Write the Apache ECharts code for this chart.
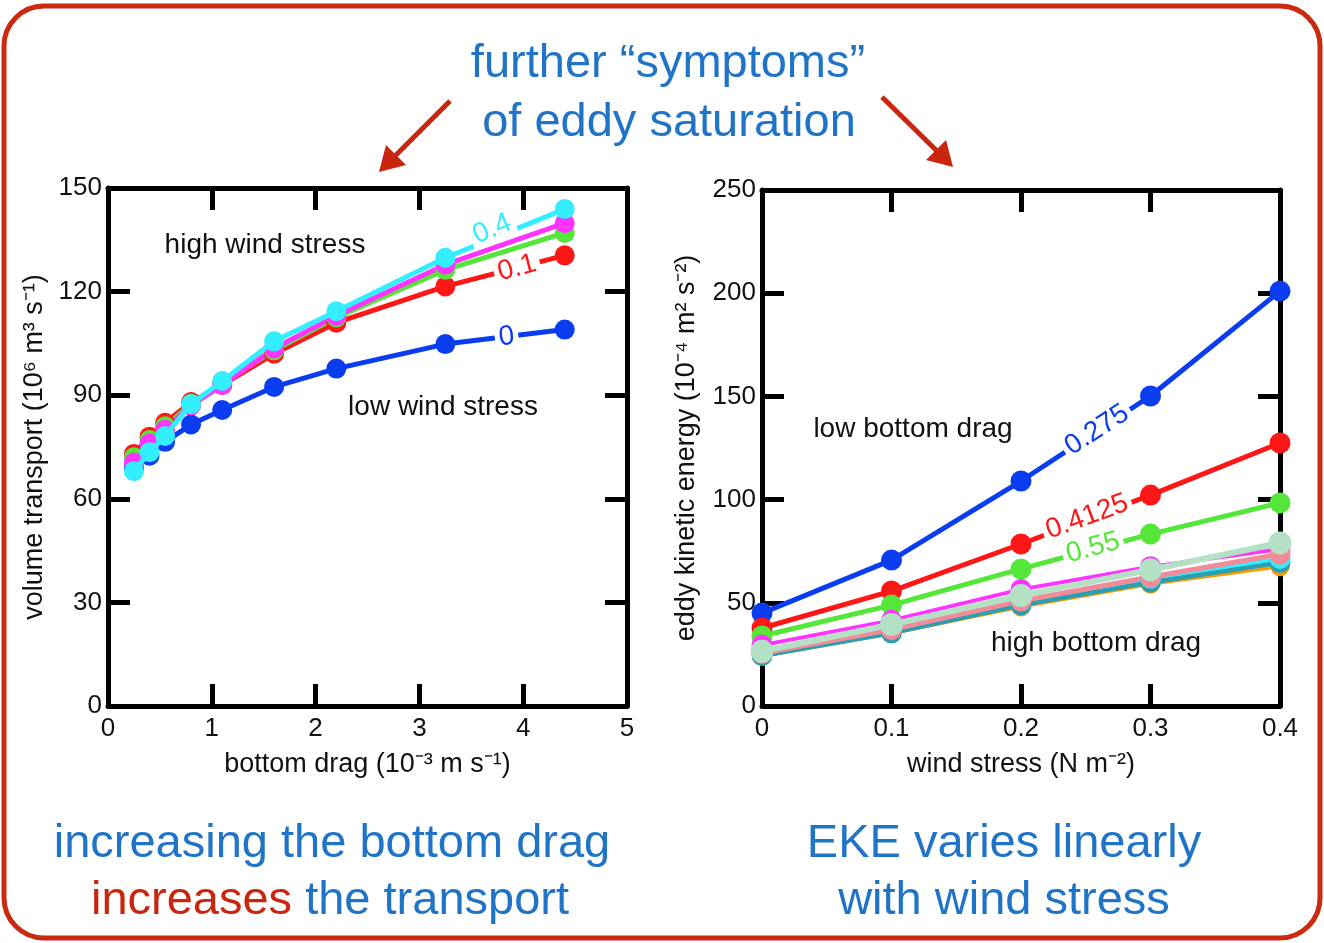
<!DOCTYPE html>
<html>
<head>
<meta charset="utf-8">
<script src="https://cdn.jsdelivr.net/npm/echarts@6/dist/echarts.min.js"></script>
<style>
  html, body { margin: 0; padding: 0; background: #fff; }
  #chart { width: 1324px; height: 943px; }
</style>
</head>
<body>
<div id="chart"></div>
<script>
// Volume transport vs bottom drag, one curve per wind stress
const dragX = [0.25, 0.4, 0.55, 0.8, 1.1, 1.6, 2.2, 3.25, 4.4];
const transportWind0   = [69, 72.5, 76.5, 81.5, 85.7, 92.4, 97.7, 104.8, 109];
const transportWind01  = [73, 78, 82, 88, 93, 102, 111, 121.5, 130.5];
const transportWind02  = [72, 77, 81, 87.5, 93.5, 103, 112.5, 126.3, 137];
const transportWind03  = [70.5, 76, 80, 87, 93, 103.5, 113, 127.8, 139.8];
const transportWind04  = [68, 73.5, 78.2, 87.4, 94.1, 105.6, 114.3, 129.8, 143.9];

// Eddy kinetic energy vs wind stress, one curve per bottom drag
const windX = [0, 0.1, 0.2, 0.3, 0.4];
const ekeDrag0275  = [45, 70.7, 109, 150.2, 201];
const ekeDrag04125 = [37.8, 55.7, 78.5, 102.2, 127.4];
const ekeDrag055   = [33.9, 48.9, 66.4, 83.3, 98.4];
const ekeDragD     = [29.5, 41.5, 56.5, 67.5, 76];
const ekeDragE     = [27, 37.5, 51, 62, 71.5];
const ekeDragF     = [25.5, 37, 51, 62.5, 73.5];
const ekeDragG     = [24.5, 35.5, 49, 60, 69.5];
const ekeDragH     = [24, 35, 48, 59, 67.5];
const ekeDragI     = [26.5, 39.5, 53.5, 66, 79];

const transportTicks = [0, 30, 60, 90, 120, 150];
const ekeTicks = [0, 50, 100, 150, 200, 250];

const FONT = '"Liberation Sans", Arial, sans-serif';
const BLUE_TEXT = '#1f74c8';
const ARROW_RED = '#c8260e';

function pairs(xs, ys) { return xs.map((x, i) => [x, ys[i]]); }

function frameAxis(type, gridIndex, pos, min, max, interval, extra) {
  const showLabel = pos === 'bottom' || pos === 'left';
  return Object.assign({
    type: 'value', gridIndex, position: pos, min, max, interval,
    axisLine: { show: true, onZero: false, lineStyle: { color: '#000', width: 5 } },
    axisTick: { show: true, inside: true, length: 22, lineStyle: { color: '#000', width: 5 } },
    axisLabel: { show: showLabel, color: '#111', fontSize: 26, fontFamily: FONT, margin: type === 'x' ? 10 : 6 },
    splitLine: { show: false }
  }, extra || {});
}

function curve(name, xIdx, yIdx, xs, ys, color, opts) {
  opts = opts || {};
  const s = {
    name, type: 'line', xAxisIndex: xIdx, yAxisIndex: yIdx,
    data: pairs(xs, ys),
    symbol: 'circle', symbolSize: opts.size || 20,
    lineStyle: { color, width: opts.width || 5 },
    itemStyle: { color },
    z: opts.z || 2
  };
  if (opts.tag) {
    s.markPoint = {
      silent: true,
      symbol: 'rect', symbolSize: 1,
      itemStyle: { color: 'rgba(0,0,0,0)' },
      data: [{
        coord: opts.tag.coord,
        label: {
          show: true, position: 'inside', formatter: opts.tag.text,
          rotate: opts.tag.rotate, color, fontSize: 28, fontFamily: FONT,
          backgroundColor: '#fff', padding: [0, 4, 0, 4]
        }
      }]
    };
  }
  return s;
}

const nameStyle = { color: '#111', fontSize: 27, fontFamily: FONT };

const chart = echarts.init(document.getElementById('chart'));

chart.setOption({
  animation: false,
  backgroundColor: '#fff',
  grid: [
    { left: 108, top: 188, width: 519, height: 518 },
    { left: 762, top: 190, width: 518, height: 516 }
  ],
  xAxis: [
    frameAxis('x', 0, 'bottom', 0, 5, 1, {
      name: 'bottom drag (10⁻³ m s⁻¹)', nameLocation: 'middle', nameGap: 45, nameTextStyle: nameStyle
    }),
    frameAxis('x', 0, 'top', 0, 5, 1),
    frameAxis('x', 1, 'bottom', 0, 0.4, 0.1, {
      name: 'wind stress (N m⁻²)', nameLocation: 'middle', nameGap: 45, nameTextStyle: nameStyle
    }),
    frameAxis('x', 1, 'top', 0, 0.4, 0.1)
  ],
  yAxis: [
    frameAxis('y', 0, 'left', transportTicks[0], transportTicks[transportTicks.length - 1], 30, {
      name: 'volume transport (10⁶ m³ s⁻¹)', nameLocation: 'middle', nameGap: 60, nameTextStyle: nameStyle
    }),
    frameAxis('y', 0, 'right', 0, 150, 30),
    frameAxis('y', 1, 'left', ekeTicks[0], ekeTicks[ekeTicks.length - 1], 50, {
      name: 'eddy kinetic energy (10⁻⁴ m² s⁻²)', nameLocation: 'middle', nameGap: 62, nameTextStyle: nameStyle
    }),
    frameAxis('y', 1, 'right', 0, 250, 50)
  ],
  series: [
    curve('τ=0', 0, 0, dragX, transportWind0, '#0a3cf0', { tag: { text: '0', coord: [3.84, 106.9], rotate: 7 } }),
    curve('τ=0.1', 0, 0, dragX, transportWind01, '#ff1616', { tag: { text: '0.1', coord: [3.94, 126.8], rotate: 15 } }),
    curve('τ=0.2', 0, 0, dragX, transportWind02, '#55e63a'),
    curve('τ=0.3', 0, 0, dragX, transportWind03, '#ff33ff'),
    curve('τ=0.4', 0, 0, dragX, transportWind04, '#33eeff', { z: 3, tag: { text: '0.4', coord: [3.70, 138.1], rotate: 23 } }),

    curve('r=0.275', 2, 2, windX, ekeDrag0275, '#0a3cf0', { size: 21, tag: { text: '0.275', coord: [0.2587, 133.7], rotate: 33 } }),
    curve('r=0.4125', 2, 2, windX, ekeDrag04125, '#ff1616', { size: 21, tag: { text: '0.4125', coord: [0.251, 91.6], rotate: 20 } }),
    curve('r=0.55', 2, 2, windX, ekeDrag055, '#55e63a', { size: 21, tag: { text: '0.55', coord: [0.2556, 76.6], rotate: 15 } }),
    curve('d', 2, 2, windX, ekeDragD, '#ff33ff', { size: 21, width: 4 }),
    curve('h', 2, 2, windX, ekeDragH, '#ff9900', { size: 19, width: 3 }),
    curve('g', 2, 2, windX, ekeDragG, '#2a9fb0', { size: 21, width: 5 }),
    curve('e', 2, 2, windX, ekeDragE, '#33eeff', { size: 21, width: 4 }),
    curve('f', 2, 2, windX, ekeDragF, '#f38a9a', { size: 21, width: 5 }),
    curve('i', 2, 2, windX, ekeDragI, '#b4e0c6', { size: 23, width: 6, z: 3 })
  ],
  graphic: [
    { type: 'rect', shape: { x: 4, y: 6, width: 1316, height: 932, r: 40 },
      style: { fill: 'none', stroke: '#cc2a10', lineWidth: 5 }, z: 100 },
    { type: 'text', x: 668, y: 64, style: { text: 'further “symptoms”', font: '47px ' + FONT, fill: BLUE_TEXT, textAlign: 'center', textVerticalAlign: 'middle' } },
    { type: 'text', x: 669, y: 123, style: { text: 'of eddy saturation', font: '47px ' + FONT, fill: BLUE_TEXT, textAlign: 'center', textVerticalAlign: 'middle' } },

    { type: 'line', shape: { x1: 450, y1: 101, x2: 392, y2: 159 }, style: { stroke: ARROW_RED, lineWidth: 5 } },
    { type: 'polygon', shape: { points: [[379, 172], [386, 145], [406, 165]] }, style: { fill: ARROW_RED } },
    { type: 'line', shape: { x1: 882, y1: 97, x2: 940, y2: 154 }, style: { stroke: ARROW_RED, lineWidth: 5 } },
    { type: 'polygon', shape: { points: [[953, 167], [926, 160], [946, 140]] }, style: { fill: ARROW_RED } },

    { type: 'text', x: 265, y: 245, style: { text: 'high wind stress', font: '28px ' + FONT, fill: '#111', textAlign: 'center', textVerticalAlign: 'middle' } },
    { type: 'text', x: 443, y: 407, style: { text: 'low wind stress', font: '28px ' + FONT, fill: '#111', textAlign: 'center', textVerticalAlign: 'middle' } },
    { type: 'text', x: 913, y: 429, style: { text: 'low bottom drag', font: '28px ' + FONT, fill: '#111', textAlign: 'center', textVerticalAlign: 'middle' } },
    { type: 'text', x: 1096, y: 643, style: { text: 'high bottom drag', font: '28px ' + FONT, fill: '#111', textAlign: 'center', textVerticalAlign: 'middle' } },

    { type: 'text', x: 332, y: 844, style: { text: 'increasing the bottom drag', font: '47px ' + FONT, fill: BLUE_TEXT, textAlign: 'center', textVerticalAlign: 'middle' } },
    { type: 'text', x: 330, y: 901, style: {
        text: '{r|increases}{b| the transport}', textAlign: 'center', textVerticalAlign: 'middle',
        rich: {
          r: { fontSize: 47, fontFamily: FONT, fill: '#c8260e' },
          b: { fontSize: 47, fontFamily: FONT, fill: BLUE_TEXT }
        }
    } },
    { type: 'text', x: 1004, y: 844, style: { text: 'EKE varies linearly', font: '47px ' + FONT, fill: BLUE_TEXT, textAlign: 'center', textVerticalAlign: 'middle' } },
    { type: 'text', x: 1004, y: 901, style: { text: 'with wind stress', font: '47px ' + FONT, fill: BLUE_TEXT, textAlign: 'center', textVerticalAlign: 'middle' } }
  ]
});
</script>
</body>
</html>
